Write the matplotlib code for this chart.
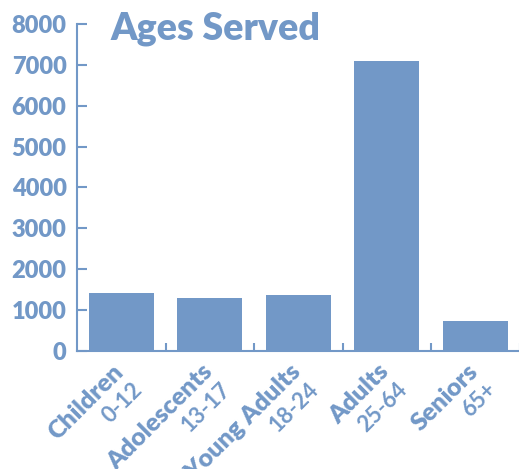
import matplotlib
matplotlib.use("Agg")
import matplotlib.pyplot as plt
from matplotlib.transforms import ScaledTranslation
from matplotlib.ticker import FixedLocator

# Data
groups = ["Children", "Adolescents", "Young Adults", "Adults", "Seniors"]
age_ranges = ["0-12", "13-17", "18-24", "25-64", "65+"]
people = [1410, 1300, 1370, 7100, 740]
y_ticks = [0, 1000, 2000, 3000, 4000, 5000, 6000, 7000, 8000]

BLUE = "#7298C7"
plt.rcParams["font.family"] = ["Lato", "DejaVu Sans"]

W, H = 519, 469
fig = plt.figure(figsize=(W / 100, H / 100), dpi=100)
ax = fig.add_axes([77 / W, 1 - 351 / H, (519.5 - 77) / W, (351 - 24) / H])

x = list(range(len(groups)))
ax.bar(x, people, width=0.73, color=BLUE, zorder=1)

ax.set_xlim(-0.5, len(groups) - 0.5)
ax.set_ylim(0, 8000)

for s in ("top", "right"):
    ax.spines[s].set_visible(False)
for s in ("left", "bottom"):
    ax.spines[s].set_color(BLUE)
    ax.spines[s].set_linewidth(1.5)
    ax.spines[s].set_zorder(3)

ax.set_yticks(y_ticks)
ax.set_yticklabels([str(v) for v in y_ticks])
ax.tick_params(axis="y", direction="in", length=7.2, width=1.5, color=BLUE,
               labelcolor=BLUE, labelsize=17, pad=7.5)
for lab in ax.get_yticklabels():
    lab.set_fontweight("heavy")

# category separators as small inward ticks
ax.set_xticks([])
ax.xaxis.set_minor_locator(FixedLocator([i + 0.5 for i in x]))
ax.tick_params(axis="x", which="minor", direction="in", length=5.8, width=1.5,
               color=BLUE)

# two-line rotated category labels
trans = ax.get_xaxis_transform()
for i, (g, r) in enumerate(zip(groups, age_ranges)):
    off1 = ScaledTranslation(4 / 100, -22 / 100, fig.dpi_scale_trans)
    off2 = ScaledTranslation(22 / 100, -40 / 100, fig.dpi_scale_trans)
    ax.text(i, 0, g, transform=trans + off1, rotation=45, rotation_mode="anchor",
            ha="right", va="baseline", fontsize=18, fontweight="heavy", color=BLUE)
    ax.text(i, 0, r, transform=trans + off2, rotation=45, rotation_mode="anchor",
            ha="right", va="baseline", fontsize=16, fontweight="bold", color=BLUE)

fig.text(110 / W, 1 - 40 / H, "Ages Served", ha="left", va="baseline",
         fontsize=27, fontweight="heavy", color=BLUE)

fig.savefig("out.png", dpi=100)
